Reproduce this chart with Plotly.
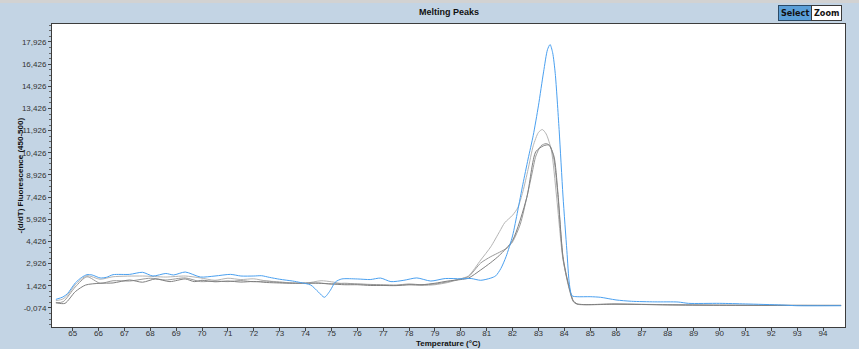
import plotly.graph_objects as go

# Melting-peak curves: -(d/dT) fluorescence vs temperature (°C)
blue_t = [64.35, 64.62, 64.8, 65.1, 65.35, 65.55, 65.75, 66.06, 66.3, 66.56, 67.2, 67.7, 68.1, 68.6, 68.9,
          69.35, 69.94, 70.5, 71.1, 71.5, 72.0, 72.3, 72.6, 73.0, 73.5, 73.8, 74.2, 74.5, 74.73, 74.95,
          75.15, 75.4, 76.0, 76.5, 76.9, 77.3, 77.8, 78.3, 78.84, 79.4, 80.0, 80.4, 80.77, 81.16, 81.35,
          81.55, 81.75, 82.0, 82.2, 82.4, 82.6, 82.8, 83.0, 83.2, 83.35, 83.45, 83.55, 83.65, 83.8, 83.95,
          84.1, 84.2, 84.3, 84.5, 85.0, 85.4, 86.0, 86.6, 87.5, 88.4, 88.8, 90.0, 91.0, 92.4, 93.0, 94.7]
blue_v = [0.51, 0.67, 0.9, 1.62, 2.0, 2.18, 2.16, 1.96, 2.0, 2.18, 2.2, 2.34, 2.09, 2.26, 2.16,
          2.36, 2.02, 2.09, 2.2, 2.09, 2.09, 2.11, 2.0, 1.87, 1.75, 1.65, 1.48, 1.0, 0.65, 1.1,
          1.68, 1.89, 1.89, 1.85, 1.95, 1.71, 1.8, 1.96, 1.75, 1.92, 1.9, 1.92, 1.8, 1.95, 2.1,
          2.6, 3.4, 4.8, 6.5, 8.3, 10.0, 11.6, 13.6, 15.9, 17.4, 17.75, 17.2, 15.8, 12.0, 7.5,
          3.8, 1.5, 0.75, 0.69, 0.69, 0.65, 0.47, 0.38, 0.34, 0.33, 0.24, 0.24, 0.2, 0.13, 0.08, 0.08]

gray1_t = [64.35, 64.62, 64.8, 65.1, 65.55, 66.06, 66.56, 67.7, 68.6, 69.35, 69.94, 70.5, 71.0, 71.5,
           72.0, 72.5, 73.0, 73.5, 74.0, 74.6, 75.0, 75.5, 76.0, 76.5, 77.0, 77.5, 78.0, 78.5, 79.0,
           79.5, 80.0, 80.3, 80.77, 81.16, 81.5, 81.7, 82.0, 82.2, 82.4, 82.6, 82.8, 83.0, 83.15,
           83.3, 83.5, 83.7, 83.95, 84.15, 84.35, 84.5, 86.0, 88.0, 90.0, 94.7]
gray1_v = [0.42, 0.53, 0.8, 1.5, 2.11, 1.87, 2.04, 2.09, 2.02, 2.09, 1.96, 1.8, 1.94, 1.85,
           1.9, 1.75, 1.7, 1.6, 1.6, 1.77, 1.7, 1.55, 1.55, 1.5, 1.45, 1.45, 1.5, 1.45, 1.5,
           1.65, 1.9, 2.1, 3.17, 4.07, 5.1, 5.7, 6.2, 6.7, 7.8, 9.3, 10.9, 11.8, 12.0,
           11.7, 10.6, 7.5, 3.2, 1.6, 0.4, 0.2, 0.2, 0.15, 0.12, 0.1]

gray2_t = [64.35, 64.63, 65.1, 65.55, 66.06, 66.56, 67.2, 68.0, 68.6, 69.35, 69.94, 70.5, 71.0, 71.5,
           72.0, 72.5, 73.0, 73.5, 74.0, 74.5, 75.0, 75.5, 76.0, 76.5, 77.0, 77.5, 78.0, 78.5, 79.0,
           79.5, 80.0, 80.3, 80.77, 81.16, 81.5, 81.8, 82.0, 82.3, 82.55, 82.75, 82.9, 83.1, 83.3,
           83.45, 83.6, 83.75, 83.95, 84.15, 84.35, 84.5, 86.0, 88.0, 90.0, 94.7]
gray2_v = [0.28, 0.35, 1.35, 2.04, 1.6, 1.77, 1.75, 1.94, 1.82, 1.96, 1.71, 1.75, 1.71, 1.78,
           1.7, 1.75, 1.65, 1.62, 1.58, 1.62, 1.55, 1.6, 1.55, 1.52, 1.5, 1.48, 1.55, 1.5, 1.55,
           1.7, 1.9, 2.05, 2.97, 3.4, 3.7, 4.0, 4.4, 5.6, 7.4, 9.0, 10.2, 10.9, 11.05,
           10.9, 10.0, 7.6, 3.3, 1.5, 0.35, 0.18, 0.18, 0.14, 0.11, 0.1]

gray3_t = [64.35, 64.7, 65.1, 65.5, 66.06, 66.56, 67.2, 67.7, 68.2, 68.76, 69.35, 69.7, 70.0, 70.5,
           71.0, 71.5, 72.0, 72.5, 73.0, 73.5, 74.0, 74.5, 75.0, 75.5, 76.0, 76.5, 77.0, 77.5, 78.0,
           78.5, 79.0, 79.5, 80.0, 80.3, 80.77, 81.16, 81.5, 82.0, 82.55, 82.9, 83.2, 83.4, 83.6,
           83.75, 83.95, 84.15, 84.35, 84.5, 86.0, 88.0, 90.0, 94.7]
gray3_v = [0.28, 0.24, 1.03, 1.48, 1.6, 1.62, 1.82, 1.67, 1.89, 1.71, 1.89, 1.71, 1.8, 1.7,
           1.75, 1.68, 1.72, 1.65, 1.62, 1.6, 1.62, 1.6, 1.55, 1.5, 1.5, 1.45, 1.45, 1.44, 1.5,
           1.5, 1.6, 1.75, 1.85, 1.95, 2.5, 3.0, 3.5, 4.5, 7.4, 10.5, 10.9, 10.95, 10.2,
           7.8, 3.4, 1.6, 0.4, 0.2, 0.19, 0.14, 0.11, 0.1]

x_ticks = list(range(65, 95))
y_ticks = [round(-0.074 + 1.5 * i, 3) for i in range(13)]
y_tick_text = [f"{v:.3f}".replace(".", ",") for v in y_ticks]

series = [
    (gray1_t, gray1_v, "#b4b4b4"),
    (gray2_t, gray2_v, "#9a9a9a"),
    (gray3_t, gray3_v, "#808080"),
    (blue_t, blue_v, "#4aa0f0"),
]

fig = go.Figure()
for t, v, c in series:
    fig.add_trace(go.Scatter(x=t, y=v, mode="lines",
                             line=dict(color=c, width=1, shape="spline", smoothing=0.7),
                             showlegend=False, hoverinfo="skip"))

tick_font = dict(family="Liberation Sans Narrow, Arial Narrow, Liberation Sans, Arial", size=8, color="#333333")
bold_font = dict(family="Liberation Sans, Arial", size=8, color="#111111")

# plot area: 793 x 303 px
PW, PH = 793, 303

fig.update_layout(
    width=859, height=349,
    margin=dict(l=52, r=14, t=24, b=22),
    paper_bgcolor="#c3d4e4",
    plot_bgcolor="#ffffff",
    xaxis=dict(range=[64.2, 94.85], tickvals=x_ticks, ticktext=[str(v) for v in x_ticks],
               ticks="outside", ticklen=3, tickcolor="#444444", tickfont=tick_font,
               ticklabelstandoff=-5,
               showgrid=False, zeroline=False, showline=True, linecolor="#3c3c3c", linewidth=1,
               mirror=True, automargin=False),
    yaxis=dict(range=[-1.36, 19.14], tickvals=y_ticks, ticktext=y_tick_text,
               ticks="outside", ticklen=3, tickcolor="#444444", tickfont=tick_font,
               minor=dict(dtick=0.375, tick0=-0.074, ticks="outside", ticklen=2, tickcolor="#666666"),
               showgrid=False, zeroline=False, showline=True, linecolor="#3c3c3c", linewidth=1,
               mirror=True, automargin=False),
    shapes=[
        dict(type="rect", xref="paper", yref="paper", x0=-52 / PW, x1=1 + 14 / PW,
             y0=1 + 21 / PH, y1=1 + 24 / PH, fillcolor="#d2d2d2", line=dict(width=0), layer="below"),
    ],
    annotations=[
        dict(text="<b>Melting Peaks</b>", xref="paper", yref="paper", x=0.5, y=1 + 12 / PH,
             xanchor="center", yanchor="middle", showarrow=False,
             font=dict(family="Liberation Sans, Arial", size=9, color="#111111")),
        dict(text="<b>Temperature (°C)</b>", xref="paper", yref="paper", x=0.5, y=-17 / PH,
             xanchor="center", yanchor="middle", showarrow=False, font=bold_font),
        dict(text="<b>-(d/dT) Fluorescence (450-500)</b>", xref="paper", yref="paper", x=-32 / PW,
             y=0.5, xanchor="center", yanchor="middle", textangle=-90, showarrow=False, font=bold_font),
        dict(text="<b>Select</b>", xref="paper", yref="paper", x=1 - 33 / PW, y=1 + 11 / PH,
             xanchor="right", yanchor="middle", showarrow=False,
             font=dict(family="DejaVu Sans Condensed, DejaVu Sans", size=9, color="#111111"),
             bgcolor="#5b9fd8", bordercolor="#2c4a66", borderwidth=1, borderpad=2),
        dict(text="<b>Zoom</b>", xref="paper", yref="paper", x=1 - 3 / PW, y=1 + 11 / PH,
             xanchor="right", yanchor="middle", showarrow=False,
             font=dict(family="DejaVu Sans Condensed, DejaVu Sans", size=9, color="#111111"),
             bgcolor="#ffffff", bordercolor="#3a3a3a", borderwidth=1, borderpad=2),
    ],
)

fig.write_html("out.html")
